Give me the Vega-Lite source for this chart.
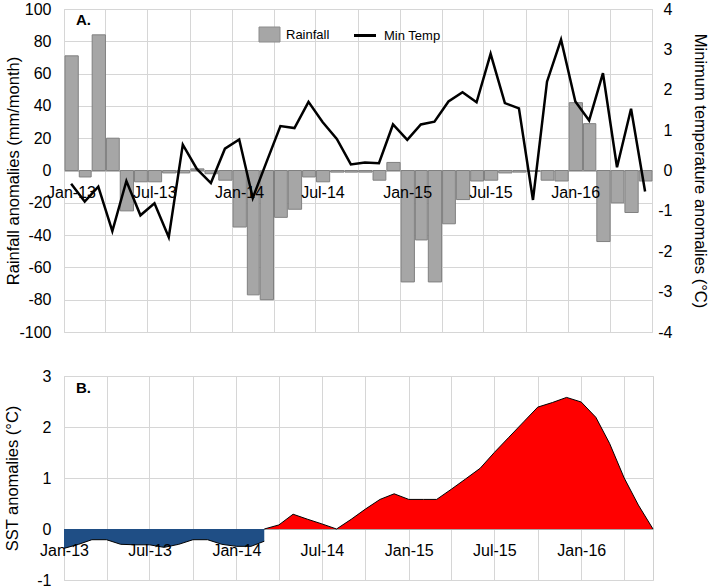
{
  "$schema": "https://vega.github.io/schema/vega-lite/v6.json",
  "background": "white",
  "padding": {"left": 4, "top": 0, "right": 0, "bottom": 0},
  "bounds": "flush",
  "spacing": 44,
  "config": {
    "font": "Liberation Sans",
    "view": {"stroke": "#d0d0d0"},
    "axis": {
      "labelFont": "Liberation Sans", "titleFont": "Liberation Sans",
      "labelFontSize": 16, "titleFontSize": 16.5, "titleFontWeight": "normal",
      "labelColor": "black", "titleColor": "black",
      "gridColor": "#d6d6d6", "domainColor": "#a6a6a6", "ticks": false
    }
  },
  "resolve": {"scale": {"fill": "independent", "stroke": "independent"}},
  "datasets": {
    "rain": [
      {"date":"2013-01-01","rain":71,"temp":-0.33},
      {"date":"2013-02-01","rain":-4,"temp":-0.77},
      {"date":"2013-03-01","rain":84,"temp":-0.4},
      {"date":"2013-04-01","rain":20,"temp":-1.5},
      {"date":"2013-05-01","rain":-25,"temp":-0.26},
      {"date":"2013-06-01","rain":-7,"temp":-1.11},
      {"date":"2013-07-01","rain":-7,"temp":-0.81},
      {"date":"2013-08-01","rain":-1.5,"temp":-1.65},
      {"date":"2013-09-01","rain":-1.5,"temp":0.64},
      {"date":"2013-10-01","rain":1,"temp":0.04},
      {"date":"2013-11-01","rain":-2,"temp":-0.31},
      {"date":"2013-12-01","rain":-6,"temp":0.54},
      {"date":"2014-01-01","rain":-35,"temp":0.77},
      {"date":"2014-02-01","rain":-77,"temp":-0.68},
      {"date":"2014-03-01","rain":-80,"temp":0.2},
      {"date":"2014-04-01","rain":-29,"temp":1.1},
      {"date":"2014-05-01","rain":-24,"temp":1.05},
      {"date":"2014-06-01","rain":-4,"temp":1.7},
      {"date":"2014-07-01","rain":-7,"temp":1.2},
      {"date":"2014-08-01","rain":-1,"temp":0.78},
      {"date":"2014-09-01","rain":-1,"temp":0.15},
      {"date":"2014-10-01","rain":-1,"temp":0.2},
      {"date":"2014-11-01","rain":-6,"temp":0.18},
      {"date":"2014-12-01","rain":5,"temp":1.14},
      {"date":"2015-01-01","rain":-69,"temp":0.76},
      {"date":"2015-02-01","rain":-43,"temp":1.14},
      {"date":"2015-03-01","rain":-69,"temp":1.21},
      {"date":"2015-04-01","rain":-33,"temp":1.71},
      {"date":"2015-05-01","rain":-18,"temp":1.94},
      {"date":"2015-06-01","rain":-6.5,"temp":1.69},
      {"date":"2015-07-01","rain":-6,"temp":2.89},
      {"date":"2015-08-01","rain":-1.5,"temp":1.67},
      {"date":"2015-09-01","rain":-1,"temp":1.54},
      {"date":"2015-10-01","rain":-0.5,"temp":-0.73},
      {"date":"2015-11-01","rain":-6,"temp":2.2},
      {"date":"2015-12-01","rain":-6.5,"temp":3.24},
      {"date":"2016-01-01","rain":42,"temp":1.71},
      {"date":"2016-02-01","rain":29,"temp":1.24},
      {"date":"2016-03-01","rain":-44,"temp":2.41},
      {"date":"2016-04-01","rain":-20,"temp":0.08},
      {"date":"2016-05-01","rain":-26,"temp":1.53},
      {"date":"2016-06-01","rain":-6.5,"temp":-0.52}
    ],
    "sst": [
      {"date":"2013-01-01","sst":-0.38,"phase":"cool"},
      {"date":"2013-02-01","sst":-0.3,"phase":"cool"},
      {"date":"2013-03-01","sst":-0.21,"phase":"cool"},
      {"date":"2013-04-01","sst":-0.21,"phase":"cool"},
      {"date":"2013-05-01","sst":-0.3,"phase":"cool"},
      {"date":"2013-06-01","sst":-0.31,"phase":"cool"},
      {"date":"2013-07-01","sst":-0.31,"phase":"cool"},
      {"date":"2013-08-01","sst":-0.36,"phase":"cool"},
      {"date":"2013-09-01","sst":-0.3,"phase":"cool"},
      {"date":"2013-10-01","sst":-0.21,"phase":"cool"},
      {"date":"2013-11-01","sst":-0.21,"phase":"cool"},
      {"date":"2013-12-01","sst":-0.3,"phase":"cool"},
      {"date":"2014-01-01","sst":-0.34,"phase":"cool"},
      {"date":"2014-02-01","sst":-0.34,"phase":"cool"},
      {"date":"2014-03-01","sst":-0.24,"phase":"cool"},
      {"date":"2014-03-01","sst":0,"phase":"warm"},
      {"date":"2014-04-01","sst":0.08,"phase":"warm"},
      {"date":"2014-05-01","sst":0.29,"phase":"warm"},
      {"date":"2014-06-01","sst":0.19,"phase":"warm"},
      {"date":"2014-07-01","sst":0.1,"phase":"warm"},
      {"date":"2014-08-01","sst":0,"phase":"warm"},
      {"date":"2014-09-01","sst":0.19,"phase":"warm"},
      {"date":"2014-10-01","sst":0.39,"phase":"warm"},
      {"date":"2014-11-01","sst":0.58,"phase":"warm"},
      {"date":"2014-12-01","sst":0.69,"phase":"warm"},
      {"date":"2015-01-01","sst":0.58,"phase":"warm"},
      {"date":"2015-02-01","sst":0.58,"phase":"warm"},
      {"date":"2015-03-01","sst":0.58,"phase":"warm"},
      {"date":"2015-04-01","sst":0.78,"phase":"warm"},
      {"date":"2015-05-01","sst":0.98,"phase":"warm"},
      {"date":"2015-06-01","sst":1.19,"phase":"warm"},
      {"date":"2015-07-01","sst":1.5,"phase":"warm"},
      {"date":"2015-08-01","sst":1.8,"phase":"warm"},
      {"date":"2015-09-01","sst":2.1,"phase":"warm"},
      {"date":"2015-10-01","sst":2.39,"phase":"warm"},
      {"date":"2015-11-01","sst":2.48,"phase":"warm"},
      {"date":"2015-12-01","sst":2.58,"phase":"warm"},
      {"date":"2016-01-01","sst":2.49,"phase":"warm"},
      {"date":"2016-02-01","sst":2.19,"phase":"warm"},
      {"date":"2016-03-01","sst":1.68,"phase":"warm"},
      {"date":"2016-04-01","sst":1.0,"phase":"warm"},
      {"date":"2016-05-01","sst":0.47,"phase":"warm"},
      {"date":"2016-06-01","sst":0,"phase":"warm"}
    ]
  },
  "vconcat": [
    {
      "width": 588,
      "height": 323,
      "data": {"name": "rain"},
      "title": {"text": "A.", "anchor": "start", "frame": "group", "fontSize": 15, "fontWeight": "bold", "font": "Liberation Sans", "color": "black", "offset": 0, "dx": 12, "dy": 27},
      "layer": [
        {
          "mark": {"type": "bar", "stroke": "#808080", "strokeWidth": 1},
          "encoding": {
            "x": {
              "field": "date", "type": "temporal", "timeUnit": "utcyearmonth",
              "scale": {"type": "utc", "domain": [{"year": 2013, "month": "jan", "date": 1, "utc": true}, {"year": 2016, "month": "jul", "date": 1, "utc": true}]},
              "axis": {
                "orient": "bottom", "title": null, "offset": -161.5, "grid": true, "labels": false,
                "tickCount": {"interval": "month", "step": 3},
                "domain": true, "domainColor": "#a6a6a6", "zindex": 0
              }
            },
            "y": {
              "field": "rain", "type": "quantitative",
              "scale": {"domain": [-100, 100], "nice": false, "zero": false},
              "axis": {"title": "Rainfall anomalies (mm/month)", "values": [-100, -80, -60, -40, -20, 0, 20, 40, 60, 80, 100], "format": "d", "labelExpr": "replace(datum.label, '−', '-')", "grid": true, "domain": false, "labelPadding": 13, "titlePadding": -3}
            },
            "fill": {
              "datum": "Rainfall", "type": "nominal",
              "scale": {"domain": ["Rainfall"], "range": ["#a6a6a6"]},
              "legend": {
                "title": null, "orient": "none", "legendX": 197.5, "legendY": 17.5, "direction": "horizontal",
                "padding": 0, "labelFontSize": 13, "labelFont": "Liberation Sans", "labelColor": "black",
                "symbolType": "M-1.4,-1H1.4V1H-1.4Z", "symbolSize": 225, "symbolStrokeColor": "#8c8c8c", "symbolStrokeWidth": 1,
                "symbolOpacity": 1, "labelOffset": 8.5
              }
            }
          }
        },
        {
          "mark": {"type": "line", "strokeWidth": 2.5},
          "encoding": {
            "x": {
              "field": "date", "type": "temporal", "timeUnit": "utcyearmonth", "bandPosition": 0.5,
              "axis": {
                "orient": "bottom", "title": null, "offset": -161.5, "grid": false, "domain": false, "zindex": 1,
                "tickCount": {"interval": "month", "step": 3},
                "labelExpr": "utcmonth(datum.value) % 6 == 0 && !(utcyear(datum.value) == 2016 && utcmonth(datum.value) == 6) ? utcFormat(datum.value, '%b-%y') : ''",
                "labelOffset": 7, "labelPadding": 14, "labelFlush": false, "labelOverlap": false, "labelBound": false,
                "labelAlign": "center", "labelBaseline": "top"
              }
            },
            "y": {
              "field": "temp", "type": "quantitative",
              "scale": {"domain": [-4, 4], "nice": false, "zero": false},
              "axis": {"orient": "right", "title": "Minimum temperature anomalies (°C)", "values": [-4, -3, -2, -1, 0, 1, 2, 3, 4], "format": "d", "labelExpr": "replace(datum.label, '−', '-')", "grid": false, "domain": false, "labelAlign": "right", "labelPadding": 20, "titlePadding": 19}
            },
            "stroke": {
              "datum": "Min Temp", "type": "nominal",
              "scale": {"domain": ["Min Temp"], "range": ["#000000"]},
              "legend": {
                "title": null, "orient": "none", "legendX": 288.5, "legendY": 14, "direction": "horizontal",
                "padding": 0, "labelFontSize": 13, "labelFont": "Liberation Sans", "labelColor": "black",
                "symbolType": "stroke", "symbolSize": 484, "symbolStrokeWidth": 3, "labelOffset": 6.5
              }
            }
          }
        }
      ],
      "resolve": {"scale": {"y": "independent"}, "axis": {"x": "independent"}}
    },
    {
      "width": 589,
      "height": 204,
      "data": {"name": "sst"},
      "title": {"text": "B.", "anchor": "start", "frame": "group", "fontSize": 15, "fontWeight": "bold", "font": "Liberation Sans", "color": "black", "offset": 0, "dx": 12, "dy": 28},
      "layer": [
        {
          "mark": {"type": "area", "opacity": 1},
          "encoding": {
            "x": {
              "field": "date", "type": "temporal",
              "scale": {"type": "utc", "domain": [{"year": 2013, "month": "jan", "date": 1, "utc": true}, {"year": 2016, "month": "jun", "date": 1, "utc": true}]},
              "axis": {
                "orient": "bottom", "title": null, "offset": -51, "grid": true, "labels": false,
                "tickCount": {"interval": "month", "step": 3},
                "domain": true, "domainColor": "#a6a6a6", "zindex": 0
              }
            },
            "y": {
              "field": "sst", "type": "quantitative", "stack": null,
              "scale": {"domain": [-1, 3], "nice": false, "zero": false},
              "axis": {"title": "SST anomalies (°C)", "values": [-1, 0, 1, 2, 3], "format": "d", "labelExpr": "replace(datum.label, '−', '-')", "grid": true, "domain": false, "labelPadding": 13, "titlePadding": 16}
            },
            "fill": {"field": "phase", "type": "nominal", "scale": {"domain": ["cool", "warm"], "range": ["#1f4e85", "#ff0000"]}, "legend": null}
          }
        },
        {
          "mark": {"type": "line", "color": "black", "strokeWidth": 1},
          "encoding": {
            "x": {
              "field": "date", "type": "temporal",
              "axis": {
                "orient": "bottom", "title": null, "offset": -51, "grid": false, "domain": false, "zindex": 1,
                "tickCount": {"interval": "month", "step": 3},
                "labelExpr": "utcmonth(datum.value) % 6 == 0 ? utcFormat(datum.value, '%b-%y') : ''",
                "labelPadding": 13, "labelFlush": false, "labelOverlap": false, "labelBound": false,
                "labelAlign": "center", "labelBaseline": "top"
              }
            },
            "y": {"field": "sst", "type": "quantitative", "stack": null},
            "detail": {"field": "phase"}
          }
        }
      ],
      "resolve": {"axis": {"x": "independent"}}
    }
  ]
}
